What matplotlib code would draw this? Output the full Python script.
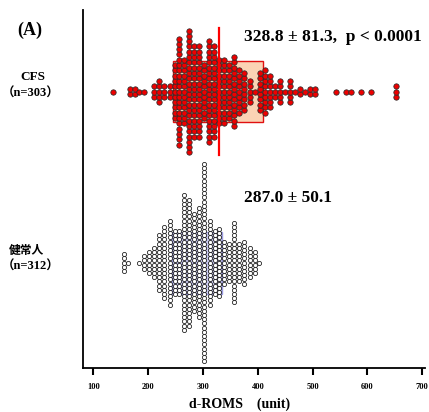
import numpy as np
import matplotlib
matplotlib.use("Agg")
import matplotlib.pyplot as plt
from matplotlib.patches import Rectangle

# ---- data (dot columns, value -> number of dots) ----
cfs_values = [136, 166, 175, 184, 193, 211, 220, 229, 239,
              248, 257, 266, 275, 284, 293, 302, 311, 320, 330, 339, 348, 357,
              366, 375, 385, 394, 404, 413, 422, 431, 440, 450, 459, 468, 477,
              486, 495, 504, 542, 561, 570, 588, 606, 653]
cfs_counts = [1, 2, 2, 1, 1, 3, 5, 3, 3,
              11, 21, 13, 24, 18, 18, 11, 20, 18, 13, 13, 11, 14,
              9, 8, 5, 1, 8, 9, 7, 3, 5, 1, 5, 1, 2,
              1, 2, 2, 1, 1, 1, 1, 1, 3]

hc_values = [155, 164, 184, 193, 202, 211, 220, 229, 239, 248, 257, 266, 275,
             284, 293, 302, 312, 321, 330, 339, 348, 357, 366, 375, 385, 394, 403]
hc_counts = [5, 1, 1, 4, 6, 8, 14, 18, 21, 16, 16, 33, 31,
             24, 27, 48, 21, 16, 17, 11, 10, 20, 10, 11, 8, 6, 1]

cfs_mean, cfs_sd = 328.8, 81.3
hc_mean, hc_sd = 287.0, 50.1
cfs_q1, cfs_q3 = 246, 409
hc_q1, hc_q3 = 243, 335

group_names = ["CFS", "健常人"]
group_ns = ["\uff08n=303\uff09", "\uff08n=312\uff09"]
x_ticks = [100, 200, 300, 400, 500, 600, 700]
x_label = "d-ROMS\u3000(unit)"
panel = "(A)"

# ---- style / layout ----
SERIF = ["Liberation Serif", "Noto Sans CJK JP", "DejaVu Sans"]
CJK = ["Noto Sans CJK JP", "Liberation Serif", "DejaVu Sans"]
plt.rcParams["font.family"] = SERIF

fig = plt.figure(figsize=(4.29, 4.12), dpi=100)
W, H = 429, 412
ax = fig.add_axes([83 / W, (H - 368) / H, (425 - 83) / W, (368 - 10) / H])
ax.set_xlim(81, 705)
ax.set_ylim(0, 358)          # vertical layout in pixel-like units

cfs_y, hc_y = 276.5, 105.5   # group centre lines
cfs_step, hc_step = 5.3, 4.2


def swarm(values, counts, yc, step):
    xs, ys = [], []
    for v, n in zip(values, counts):
        offs = (np.arange(n) - (n - 1) / 2.0) * step
        xs.extend([v] * n)
        ys.extend(list(yc + offs))
    return np.array(xs), np.array(ys)


# boxes (interquartile)
ax.add_patch(Rectangle((cfs_q1, cfs_y - 30.5), cfs_q3 - cfs_q1, 61,
                       facecolor="#fbd3b4", edgecolor="#e01010", lw=1.0, zorder=1))
ax.add_patch(Rectangle((hc_q1, hc_y - 31), hc_q3 - hc_q1, 62,
                       facecolor="#c9c9f2", edgecolor="#9a9ae0", lw=1.0, zorder=1))
ax.plot([hc_q1, hc_q3], [hc_y, hc_y], color="#b8b8ee", lw=1.0, zorder=1.5)

x1, y1 = swarm(cfs_values, cfs_counts, cfs_y, cfs_step)
ax.scatter(x1, y1, s=15, facecolor="#ee0000", edgecolor="#2a2a2a",
           linewidth=0.55, zorder=3)
x2, y2 = swarm(hc_values, hc_counts, hc_y, hc_step)
ax.scatter(x2, y2, s=9, facecolor="white", edgecolor="#111111",
           linewidth=0.55, zorder=3)

# mean line of CFS
ax.plot([cfs_mean, cfs_mean], [213, 340], color="#ff0000", lw=1.6, zorder=4)

# annotations
fig.text(244 / W, 1 - 37 / H, f"{cfs_mean:.1f} \u00b1 {cfs_sd:.1f},  p < 0.0001",
         fontsize=12.5, fontweight="bold", family=SERIF, va="center", ha="left")
fig.text(244 / W, 1 - 198 / H, f"{hc_mean:.1f} \u00b1 {hc_sd:.1f}",
         fontsize=12.5, fontweight="bold", family=SERIF, va="center", ha="left")
fig.text(30 / W, 1 - 30 / H, panel, fontsize=13, fontweight="bold",
         family=SERIF, va="center", ha="center")
fig.text(33 / W, 1 - 77 / H, group_names[0], fontsize=9.5, fontweight="bold",
         family=SERIF, va="center", ha="center")
fig.text(1.5 / W, 1 - 94 / H, group_ns[0], fontsize=9, fontweight="bold",
         family=SERIF, va="center", ha="left")
fig.text(26 / W, 1 - 251 / H, group_names[1], fontsize=8.5, fontweight="bold",
         family=CJK, va="center", ha="center")
fig.text(1.5 / W, 1 - 267 / H, group_ns[1], fontsize=9, fontweight="bold",
         family=SERIF, va="center", ha="left")

# axes styling
for side in ["top", "right"]:
    ax.spines[side].set_visible(False)
ax.spines["left"].set_linewidth(1.3)
ax.spines["bottom"].set_linewidth(1.3)
ax.set_yticks([])
ax.set_xticks(x_ticks)
ax.set_xticklabels([str(t) for t in x_ticks], fontsize=6, fontweight="bold")
ax.tick_params(axis="x", direction="out", length=5, width=1.5, pad=6)
ax.set_xlabel(x_label, fontsize=10, fontweight="bold")
ax.xaxis.set_label_coords((240 - 83) / 342, -(404 - 368) / 358)
ax.xaxis.label.set_va("center")

fig.savefig("out.png", dpi=100)
